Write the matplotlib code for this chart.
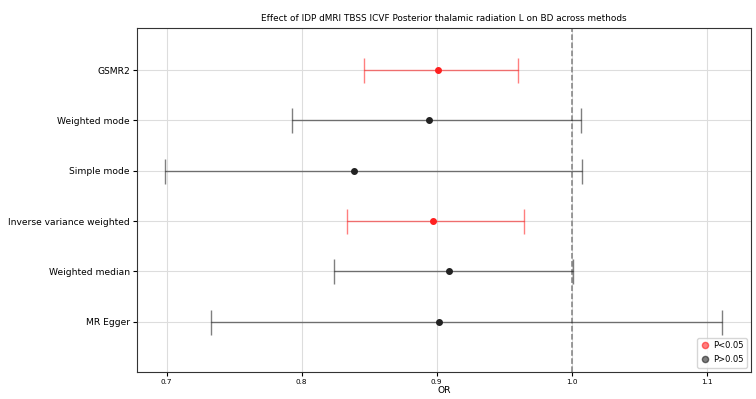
import matplotlib
matplotlib.use("Agg")
import matplotlib.pyplot as plt
from matplotlib.lines import Line2D

methods = ["MR Egger", "Weighted median", "Inverse variance weighted",
           "Simple mode", "Weighted mode", "GSMR2"]
or_vals = [0.902, 0.909, 0.897, 0.839, 0.894, 0.9007]
lower = [0.733, 0.824, 0.834, 0.6985, 0.793, 0.846]
upper = [1.111, 1.001, 0.965, 1.008, 1.007, 0.960]
pvals = [0.3, 0.06, 0.01, 0.2, 0.08, 0.002]

fig = plt.figure(figsize=(7.56, 3.99), dpi=100)
ax = fig.add_axes([0.181, 0.068, 0.812, 0.862])

for i, (m, o, lo, hi, p) in enumerate(zip(methods, or_vals, lower, upper, pvals)):
    sig = p < 0.05
    c = "red" if sig else "black"
    ax.errorbar(o, i, xerr=[[o - lo], [hi - o]], fmt="none", ecolor=c,
                alpha=0.5, elinewidth=1, capsize=9, capthick=1, zorder=2)
    ax.plot(o, i, "o", color="#ff2020" if sig else "#222222", ms=4, zorder=3)

ax.axvline(1.0, color="gray", ls="--", lw=1.1, zorder=1)
ax.set_yticks(range(len(methods)))
ax.set_yticklabels(methods, fontsize=6.6)
ax.set_xticks([0.7, 0.8, 0.9, 1.0, 1.1])
ax.set_xticklabels(["0.7", "0.8", "0.9", "1.0", "1.1"], fontsize=5.2)
ax.tick_params(axis="x", length=3, pad=2)
ax.tick_params(axis="y", length=3, pad=2)
ax.set_xlim(0.678, 1.1326)
ax.set_ylim(-1.0, 5.84)
ax.grid(True, color="#dddddd", lw=0.8, zorder=0)
ax.set_axisbelow(True)
ax.set_xlabel("OR", fontsize=6.6, labelpad=1)
ax.set_title("Effect of IDP dMRI TBSS ICVF Posterior thalamic radiation L on BD across methods",
             fontsize=6.4, pad=5)
for s in ax.spines.values():
    s.set_color("#333333")

handles = [Line2D([], [], marker="o", ls="", color="red", alpha=0.5, ms=4.5, label="P<0.05"),
           Line2D([], [], marker="o", ls="", color="black", alpha=0.5, ms=4.5, label="P>0.05")]
ax.legend(handles=handles, loc="lower right", fontsize=6, handletextpad=0.3,
          borderpad=0.4, labelspacing=0.6, handlelength=1.2)

fig.savefig("out.png", dpi=100)
